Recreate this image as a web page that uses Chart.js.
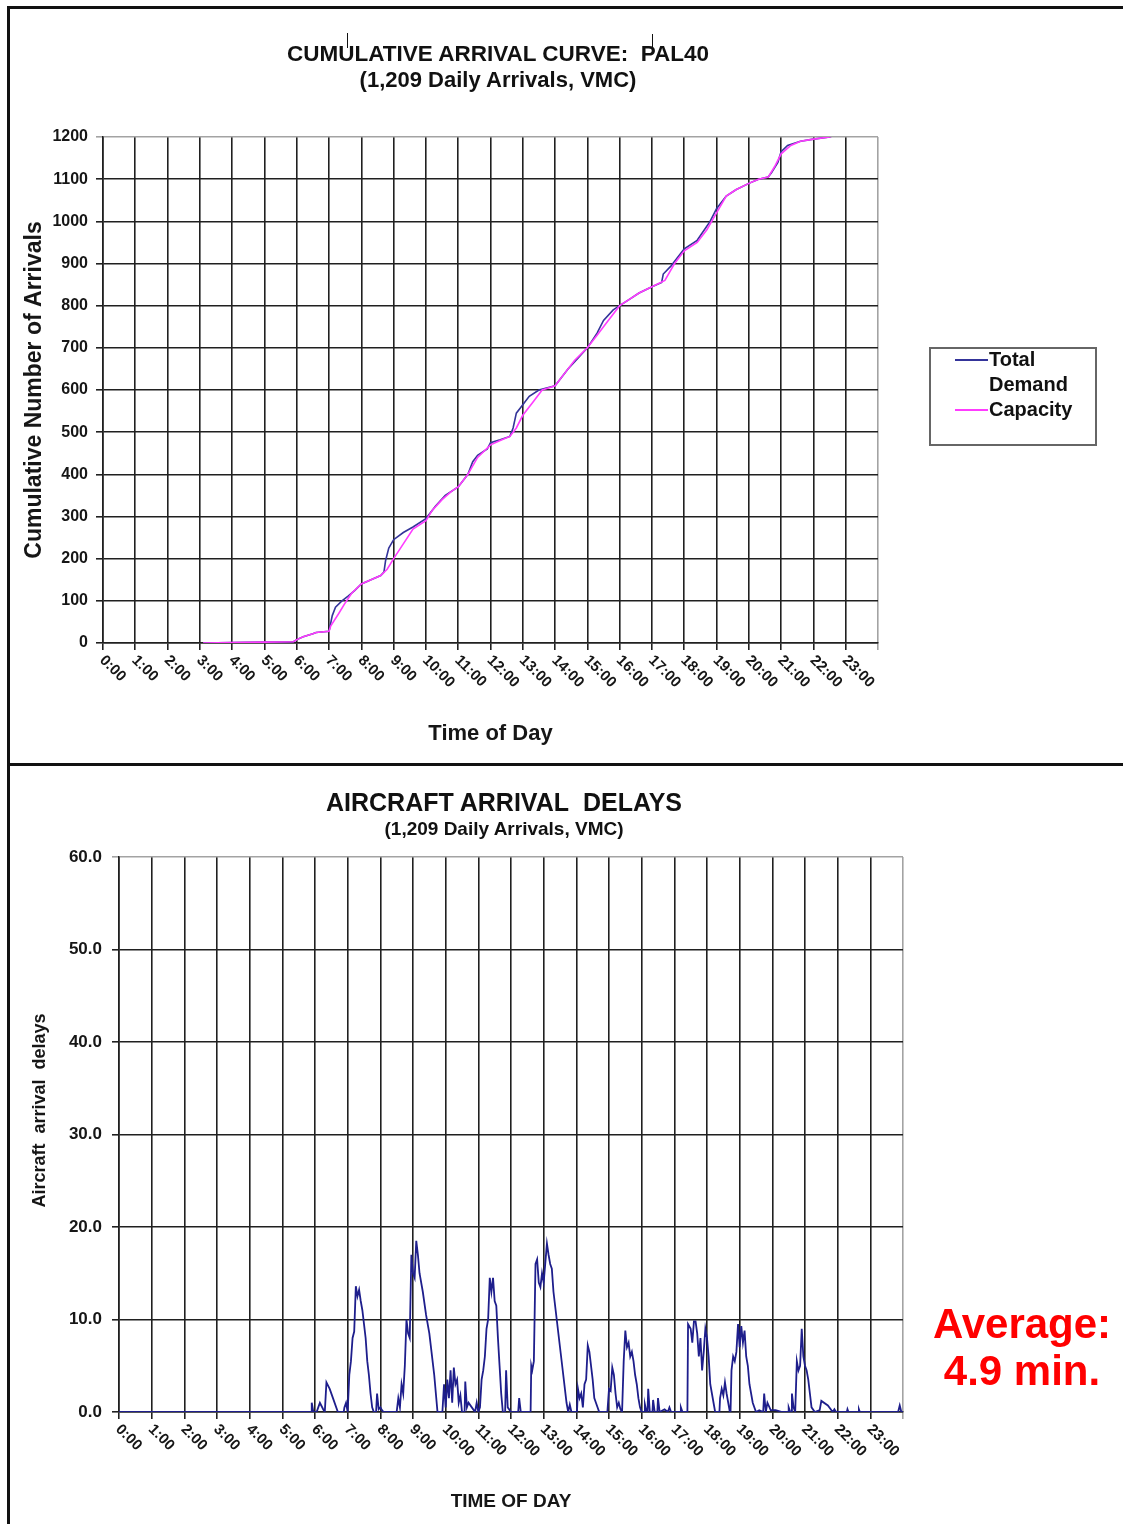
<!DOCTYPE html>
<html>
<head>
<meta charset="utf-8">
<script src="https://cdn.jsdelivr.net/npm/chart.js@4.4.1/dist/chart.umd.min.js"></script>
<style>
  body { margin: 0; background: #fff; width: 1123px; height: 1524px; position: relative; overflow: hidden;
         font-family: "Liberation Sans", Arial, sans-serif; color: #111; }
  canvas { position: absolute; left: 0; }
  #arrivalCanvas { top: 0; }
  #delayCanvas { top: 765px; }
  .title { position: absolute; font-weight: bold; white-space: nowrap; transform: translate(-50%, -50%); }
  .rule { position: absolute; background: #111; }
  #legend { position: absolute; left: 929px; top: 347px; width: 164px; height: 95px; border: 2px solid #666; }
  .lrow { position: absolute; left: 0; }
  .lline { position: absolute; left: 24px; top: 12px; width: 33px; height: 1.5px; }
  .ltext { display: block; margin-left: 58px; width: 100px; font-weight: bold; font-size: 20px; line-height: 25px; }
  #average { position: absolute; left: 1022px; top: 1300px; transform: translateX(-50%); text-align: center;
             color: #ff0000; font-weight: bold; font-size: 42px; line-height: 47px; white-space: nowrap; }
</style>
</head>
<body>
<canvas id="arrivalCanvas" width="1123" height="765"></canvas>
<canvas id="delayCanvas" width="1123" height="759"></canvas>

<div class="rule" style="left:7px;top:6px;width:3px;height:1518px"></div>
<div class="rule" style="left:7px;top:6px;width:1116px;height:3px"></div>
<div class="rule" style="left:7px;top:763px;width:1116px;height:3px"></div>
<div class="rule" style="left:347px;top:33px;width:1px;height:15px"></div>
<div class="rule" style="left:652px;top:34px;width:1px;height:14px"></div>

<div class="title" style="left:498px;top:54px;font-size:22.5px">CUMULATIVE ARRIVAL CURVE:&nbsp; PAL40</div>
<div class="title" style="left:498px;top:80px;font-size:22px">(1,209 Daily Arrivals, VMC)</div>
<div class="title" style="left:504px;top:802px;font-size:25px">AIRCRAFT ARRIVAL&nbsp; DELAYS</div>
<div class="title" style="left:504px;top:829px;font-size:19px">(1,209 Daily Arrivals, VMC)</div>

<div id="legend"></div>
<div id="average">Average:<br>4.9 min.</div>

<script>
// hour axis labels
const hourLabels = ['0:00', '1:00', '2:00', '3:00', '4:00', '5:00', '6:00', '7:00', '8:00', '9:00', '10:00', '11:00',
    '12:00', '13:00', '14:00', '15:00', '16:00', '17:00', '18:00', '19:00', '20:00', '21:00', '22:00', '23:00'];

// cumulative arrivals (hour of day, count)
const demandHours = [3.1, 4.0, 5.0, 5.9, 6.0, 6.2, 6.5, 6.6, 7.0, 7.1, 7.2, 7.4, 7.6, 7.8, 8.0, 8.3, 8.6, 8.7, 8.75, 8.85,
    9.0, 9.3, 9.6, 10.0, 10.3, 10.6, 11.0, 11.3, 11.45, 11.6, 11.9, 12.0, 12.3, 12.6, 12.7, 12.8, 13.0, 13.2, 13.5, 14.0,
    14.4, 14.7, 15.0, 15.3, 15.5, 15.8, 16.0, 16.3, 16.6, 17.0, 17.3, 17.35, 17.6, 17.9, 18.0, 18.4, 18.8, 19.0, 19.3, 19.6,
    20.0, 20.3, 20.6, 20.7, 20.9, 21.0, 21.2, 21.6, 22.0, 22.5, 22.8];
const demandArrivals = [0, 1, 2, 3, 8, 15, 22, 25, 28, 65, 85, 100, 112, 125, 140, 150, 160, 168, 195, 225,
    245, 262, 275, 295, 325, 350, 370, 400, 430, 445, 460, 475, 482, 490, 510, 545, 565, 585, 600, 610,
    650, 675, 700, 735, 765, 790, 800, 815, 830, 845, 855, 875, 895, 925, 935, 955, 1000, 1030, 1060, 1075,
    1090, 1100, 1105, 1115, 1140, 1165, 1180, 1190, 1195, 1200, 1209];

const capacityHours = [3.1, 4.0, 5.0, 5.9, 6.0, 6.2, 6.5, 6.6, 7.0, 7.05, 7.3, 7.5, 7.7, 8.0, 8.3, 8.6, 8.8, 9.0, 9.3, 9.6,
    10.0, 10.2, 10.5, 10.8, 11.0, 11.3, 11.6, 12.0, 12.3, 12.6, 12.8, 13.0, 13.3, 13.6, 14.0, 14.3, 14.6, 15.0, 15.3, 15.6,
    16.0, 16.3, 16.6, 17.0, 17.4, 17.7, 18.0, 18.4, 18.7, 19.0, 19.3, 19.6, 20.0, 20.3, 20.6, 20.8, 21.0, 21.3, 21.6, 22.0,
    22.5, 22.8];
const capacityArrivals = [0, 1, 2, 3, 8, 15, 22, 25, 28, 40, 70, 95, 118, 140, 150, 160, 175, 200, 235, 270,
    290, 315, 340, 360, 370, 400, 440, 470, 480, 490, 510, 540, 570, 600, 610, 640, 670, 700, 730, 760,
    800, 815, 830, 845, 860, 900, 930, 950, 980, 1020, 1060, 1075, 1090, 1100, 1105, 1130, 1160, 1180, 1190, 1195,
    1200, 1209];

// arrival delay in minutes: [hour of day, delay]
const delaySamples = [[0, 0], [5.88, 0], [5.9, 1.0], [5.95, 0], [6.05, 0], [6.1, 0.5], [6.15, 1.0], [6.25, 0.3], [6.3, 0],
    [6.35, 3.2], [6.45, 2.5], [6.55, 1.5], [6.7, 0], [6.88, 0], [6.9, 0.5], [6.95, 1.0], [7.0, 0], [7.05, 4], [7.1, 5.5],
    [7.15, 8], [7.2, 8.7], [7.25, 13.6], [7.3, 12.5], [7.35, 13.2], [7.4, 12], [7.45, 11], [7.5, 9.5], [7.55, 8], [7.6, 5.5],
    [7.65, 4], [7.7, 2], [7.75, 0.5], [7.8, 0], [7.87, 0], [7.9, 2.0], [7.95, 0.3], [8.0, 0.5], [8.05, 0.2], [8.1, 0],
    [8.5, 0], [8.55, 1.5], [8.6, 0.5], [8.65, 3], [8.7, 2], [8.75, 5], [8.8, 10], [8.85, 8.5], [8.9, 8], [8.95, 17],
    [9.0, 15], [9.05, 14.5], [9.1, 18.5], [9.15, 17], [9.2, 15], [9.3, 13], [9.4, 10.5], [9.5, 8.5], [9.6, 5.5], [9.65, 4],
    [9.75, 0], [9.9, 0], [9.95, 3], [10.0, 0.5], [10.05, 3.5], [10.1, 1.5], [10.15, 4.5], [10.2, 1], [10.25, 4.8], [10.3, 3],
    [10.35, 3.5], [10.4, 1], [10.45, 1.8], [10.5, 0], [10.58, 0], [10.6, 3.3], [10.65, 0.5], [10.7, 1], [10.8, 0.5], [10.9, 0],
    [10.95, 1.0], [11.0, 0], [11.05, 0.5], [11.1, 3.5], [11.15, 4.5], [11.2, 6], [11.25, 9], [11.3, 10], [11.35, 14.5],
    [11.4, 13], [11.45, 14.5], [11.5, 12], [11.55, 11.5], [11.6, 8], [11.65, 5], [11.7, 2], [11.75, 0], [11.82, 0],
    [11.85, 4.5], [11.9, 0.5], [12.0, 0], [12.22, 0], [12.25, 1.5], [12.3, 0], [12.6, 0], [12.62, 5], [12.65, 4.5],
    [12.7, 5.5], [12.75, 16], [12.8, 16.5], [12.85, 14], [12.9, 13.5], [12.95, 15], [13.0, 14], [13.1, 18.2], [13.15, 17],
    [13.2, 16], [13.25, 15.5], [13.3, 13], [13.4, 10], [13.5, 7], [13.6, 4], [13.7, 1], [13.75, 0], [13.8, 0.8], [13.85, 0],
    [14.02, 0], [14.05, 2.5], [14.1, 1.5], [14.15, 2], [14.2, 0.5], [14.25, 3], [14.3, 3.5], [14.35, 7.2], [14.4, 6.5],
    [14.5, 3.5], [14.55, 1.5], [14.6, 1.0], [14.7, 0], [14.95, 0], [15.0, 2.5], [15.05, 2.3], [15.1, 4.8], [15.15, 4],
    [15.2, 2], [15.25, 0.5], [15.3, 1.0], [15.35, 0.3], [15.4, 0], [15.45, 5.5], [15.5, 8.8], [15.55, 7], [15.6, 7.5],
    [15.65, 6], [15.7, 6.5], [15.75, 5.5], [15.8, 4], [15.85, 3], [15.9, 1.5], [15.95, 0.5], [16.0, 0], [16.08, 0],
    [16.1, 0.8], [16.15, 0], [16.18, 0], [16.2, 2.5], [16.25, 0], [16.33, 0], [16.35, 1.3], [16.4, 0], [16.48, 0], [16.5, 1.5],
    [16.55, 0], [16.7, 0.3], [16.8, 0], [16.85, 0.5], [16.9, 0], [17.18, 0], [17.2, 0.5], [17.25, 0], [17.4, 0], [17.42, 9.5],
    [17.5, 9], [17.55, 7.5], [17.6, 9.8], [17.65, 9.8], [17.7, 8.5], [17.75, 6], [17.8, 8], [17.85, 4.5], [17.9, 6.5],
    [17.95, 9], [18.0, 8], [18.05, 6], [18.1, 3], [18.2, 1], [18.25, 0], [18.38, 0], [18.4, 1.5], [18.45, 2.5], [18.5, 1.8],
    [18.55, 3.2], [18.6, 2], [18.65, 1], [18.7, 0], [18.72, 0], [18.75, 4.5], [18.8, 6], [18.85, 5.5], [18.9, 6.5],
    [18.95, 9.5], [19.0, 7], [19.05, 9.3], [19.1, 7.5], [19.15, 8.8], [19.2, 6], [19.25, 5], [19.3, 3], [19.4, 1], [19.5, 0],
    [19.6, 0.2], [19.72, 0], [19.75, 2.0], [19.8, 0], [19.85, 1.0], [19.95, 0.2], [20.1, 0.2], [20.3, 0], [20.48, 0],
    [20.5, 0.5], [20.55, 0], [20.58, 0], [20.6, 2], [20.65, 0.5], [20.7, 0], [20.75, 5.5], [20.8, 4.5], [20.85, 5], [20.9, 9],
    [20.95, 6], [21.0, 5], [21.05, 4.5], [21.1, 3.5], [21.15, 2], [21.2, 0.5], [21.3, 0], [21.45, 0.2], [21.5, 1.2],
    [21.7, 0.7], [21.85, 0], [21.9, 0.3], [21.95, 0], [22.28, 0], [22.3, 0.3], [22.33, 0], [22.63, 0], [22.65, 0.3],
    [22.68, 0], [23.85, 0], [23.9, 0.7], [23.95, 0], [24, 0]];

const FONT = '"Liberation Sans", Arial, sans-serif';
const INK = '#161616';

// slanted hour labels (Chart.js only rotates the other way)
const hourTicks = {
    id: 'hourTicks',
    afterDraw(chart, args, opts) {
        const ctx = chart.ctx;
        const x = chart.scales.x;
        ctx.save();
        ctx.font = opts.font;
        ctx.fillStyle = INK;
        ctx.textAlign = 'left';
        ctx.textBaseline = 'middle';
        hourLabels.forEach(function (label, i) {
            ctx.save();
            ctx.translate(x.getPixelForValue(i) + opts.dx, chart.chartArea.bottom + opts.dy);
            ctx.rotate(Math.PI / 4);
            ctx.fillText(label, 0, 0);
            ctx.restore();
        });
        ctx.restore();
    }
};

// vertical axis title, placed freely
const sideTitle = {
    id: 'sideTitle',
    afterDraw(chart, args, opts) {
        const ctx = chart.ctx;
        const area = chart.chartArea;
        ctx.save();
        ctx.font = opts.font;
        ctx.fillStyle = INK;
        ctx.textAlign = 'center';
        ctx.textBaseline = 'middle';
        ctx.translate(opts.x, (area.top + area.bottom) / 2 + opts.shift);
        ctx.rotate(-Math.PI / 2);
        ctx.fillText(opts.text, 0, 0);
        ctx.restore();
    }
};

function gridColor(edge) {
    return function (c) {
        return c.tick && c.tick.value === edge ? '#a3a3a3' : '#202020';
    };
}

function hourAxis(height, title, titleFont, titleGap) {
    return {
        type: 'linear', min: 0, max: 24,
        afterFit: function (s) { s.height = height; },
        ticks: { stepSize: 1, display: false },
        grid: { color: gridColor(24), lineWidth: 1.6, tickLength: 7 },
        border: { color: '#202020', width: 1.6 },
        title: { display: true, text: title, color: INK, font: titleFont, padding: { top: 0, bottom: titleGap } }
    };
}

const arrivalChart = new Chart(document.getElementById('arrivalCanvas'), {
    type: 'line',
    data: {
        datasets: [{
            label: 'Total Demand',
            data: demandHours.map((h, i) => ({ x: h, y: demandArrivals[i] })),
            borderColor: '#34349a',
            borderWidth: 1.6,
            pointRadius: 0,
            order: 2
        }, {
            label: 'Capacity',
            data: capacityHours.map((h, i) => ({ x: h, y: capacityArrivals[i] })),
            borderColor: '#ff3cff',
            borderWidth: 1.6,
            pointRadius: 0,
            order: 1
        }]
    },
    options: {
        responsive: false,
        animation: false,
        events: [],
        layout: { padding: { left: 0, right: 245, top: 137, bottom: 0 } },
        plugins: {
            legend: { display: false },
            tooltip: { enabled: false },
            sideTitle: { text: 'Cumulative Number of Arrivals', font: 'bold 23px ' + FONT, x: 35, shift: 0 },
            hourTicks: { font: 'bold 15px ' + FONT, dx: -1, dy: 15 }
        },
        scales: {
            x: hourAxis(122, 'Time of Day', { family: FONT, size: 22, weight: 'bold' }, 18),
            y: {
                min: 0, max: 1200,
                afterFit: function (s) { s.width = 103; },
                ticks: {
                    stepSize: 100, color: INK, padding: 8,
                    font: { family: FONT, size: 16, weight: 'bold' },
                    callback: v => String(v)
                },
                grid: { color: gridColor(1200), lineWidth: 1.6, tickLength: 7 },
                border: { color: '#202020', width: 1.6 }
            }
        }
    },
    plugins: [sideTitle, hourTicks]
});

const delayChart = new Chart(document.getElementById('delayCanvas'), {
    type: 'line',
    data: {
        datasets: [{
            label: 'Arrival delay',
            data: delaySamples.map(p => ({ x: p[0], y: p[1] })),
            borderColor: '#1e1e8c',
            borderWidth: 1.8,
            pointRadius: 0
        }]
    },
    options: {
        responsive: false,
        animation: false,
        events: [],
        layout: { padding: { left: 0, right: 220, top: 92, bottom: 0 } },
        plugins: {
            legend: { display: false },
            tooltip: { enabled: false },
            sideTitle: { text: 'Aircraft  arrival  delays', font: 'bold 18px ' + FONT, x: 40, shift: -24 },
            hourTicks: { font: 'bold 15px ' + FONT, dx: -1, dy: 15 }
        },
        scales: {
            x: hourAxis(112, 'TIME OF DAY', { family: FONT, size: 19, weight: 'bold' }, 11),
            y: {
                min: 0, max: 60,
                afterFit: function (s) { s.width = 119; },
                ticks: {
                    stepSize: 10, color: INK, padding: 10,
                    font: { family: FONT, size: 17, weight: 'bold' },
                    callback: v => v.toFixed(1)
                },
                grid: { color: gridColor(60), lineWidth: 1.6, tickLength: 7 },
                border: { color: '#202020', width: 1.6 }
            }
        }
    },
    plugins: [sideTitle, hourTicks]
});

// legend box built from the arrival datasets
const legendBox = document.getElementById('legend');
let rowTop = -2;
arrivalChart.data.datasets.forEach(function (ds) {
    const row = document.createElement('div');
    row.className = 'lrow';
    row.style.top = rowTop + 'px';
    row.innerHTML = '<span class="lline" style="background:' + ds.borderColor + '"></span>' +
        '<span class="ltext">' + ds.label + '</span>';
    legendBox.appendChild(row);
    rowTop += row.offsetHeight;
});
</script>
</body>
</html>
